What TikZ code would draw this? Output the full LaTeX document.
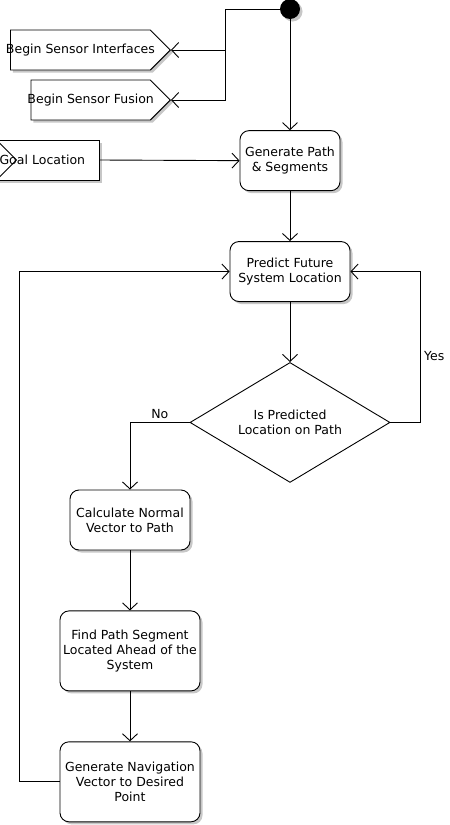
\documentclass[tikz,border=0pt]{standalone}
\usepackage{fontspec}
\setmainfont{DejaVu Sans}
\usetikzlibrary{shapes.geometric, shapes.symbols, arrows.meta, positioning, shadows}
\tikzset{
	softshadow/.style={drop shadow={shadow xshift=2.5pt, shadow yshift=-2.5pt, fill=black!22, opacity=1}},
	process/.style  ={rectangle, rounded corners=9pt, draw=black, line width=0.9pt, fill=white, align=center, inner sep=0pt, softshadow},
	sendsig/.style  ={signal, signal to=east, signal pointer angle=90, minimum height=40pt, draw=black, line width=0.9pt, fill=white, softshadow},
	recvsig/.style  ={rectangle, minimum height=40pt, inner xsep=3pt, align=left, draw=black, line width=0.9pt, fill=white, softshadow,
		path picture={\draw[line width=0.9pt] (path picture bounding box.north west) -- ++(20pt,-20pt) -- (path picture bounding box.south west);}},
	decision/.style ={diamond, aspect=1.67, minimum width=200pt, minimum height=120pt, inner sep=0pt, align=center, draw=black, line width=0.9pt, fill=white},
	startnode/.style={circle, fill=black, minimum size=20pt, inner sep=0pt, softshadow},
	flowarrow/.style={-{Straight Barb[length=7pt, width=15pt]}, line width=0.9pt},
}
\begin{document}
\begin{tikzpicture}[x=1pt, y=-1pt, font=\fontsize{12.5}{15}\selectfont]
	\useasboundingbox (0,0) rectangle (450,825);
	\node[startnode] (start) at (290,9) {};
	\node[process, minimum width=100pt, minimum height=60pt, below=111pt of start] (gen) {Generate Path\\ \& Segments};
	\node[process, minimum width=120pt, minimum height=60pt, below=50pt of gen] (pred) {Predict Future\\ System Location};
	\node[decision, below=60pt of pred] (dec) {Is Predicted\\ Location on Path};
	\node[process, minimum width=120pt, minimum height=60pt] (calc) at (130,520) {Calculate Normal\\ Vector to Path};
	\node[process, minimum width=140pt, minimum height=80pt, below=60pt of calc] (find) {Find Path Segment\\ Located Ahead of the\\ System};
	\node[process, minimum width=140pt, minimum height=80pt, below=50pt of find] (nav) {Generate Navigation\\ Vector to Desired\\ Point};
	\node[sendsig, inner xsep=-4.5pt, anchor=east] (bsi) at (171,50) {Begin Sensor Interfaces};
	\node[sendsig, inner xsep=-3.5pt, anchor=east] (bsf) at (171,100) {Begin Sensor Fusion};
	\node[recvsig, text width=97pt, anchor=east] (goal) at (100,160) {Goal Location};
	\coordinate (split) at (225,9);
	\draw[flowarrow] (start.west) -- (split) |- (bsf.east);
	\draw[flowarrow] (split |- bsi.east) -- (bsi.east);
	\draw[flowarrow] (start) -- (gen);
	\draw[flowarrow] (goal.east) -- (gen.west);
	\draw[flowarrow] (gen) -- (pred);
	\draw[flowarrow] (pred) -- (dec);
	\draw[flowarrow] (dec.east) -- ++(30,0) |- node[pos=0.22, right] {Yes} (pred.east);
	\draw[flowarrow] (dec.west) -| node[pos=0.25, above] {No} (calc.north);
	\draw[flowarrow] (calc) -- (find);
	\draw[flowarrow] (find) -- (nav);
	\draw[flowarrow] (nav.west) -- ++(-40,0) |- (pred.west);
\end{tikzpicture}
\end{document}
